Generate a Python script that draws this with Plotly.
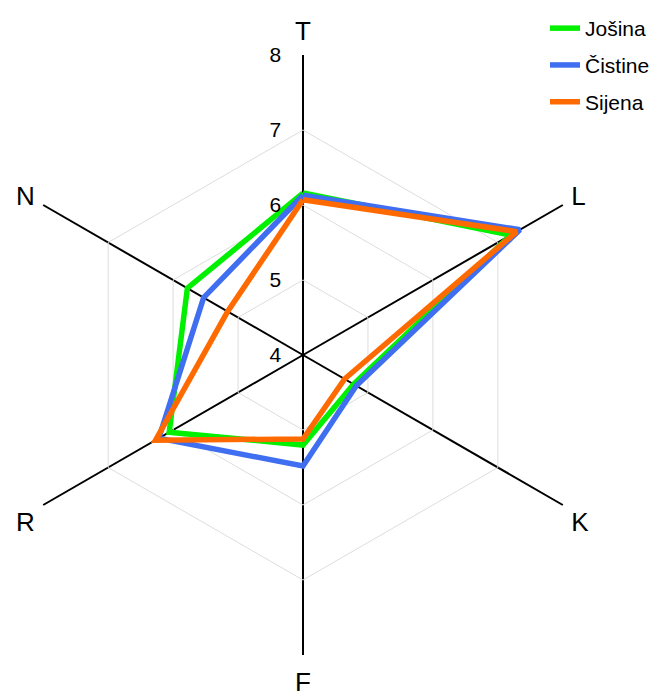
import plotly.graph_objects as go

categories = ["T", "L", "K", "F", "R", "N"]
josina = [6.16, 7.2, 4.78, 5.2, 6.06, 5.78]
cistine = [6.13, 7.34, 4.82, 5.48, 6.22, 5.53]
sijena = [6.07, 7.29, 4.64, 5.12, 6.27, 5.16]
series_names = ["Jošina", "Čistine", "Sijena"]
series_colors = ["#00f000", "#3f6ff0", "#ff6a00"]
radial_ticks = [4, 5, 6, 7, 8]

W, H = 659, 696

fig = go.Figure()
for name, vals, col in zip(series_names, [josina, cistine, sijena], series_colors):
    fig.add_trace(go.Scatterpolar(
        r=vals + vals[:1],
        theta=categories + categories[:1],
        mode="lines",
        name=name,
        legendgroup=name,
        line=dict(color=col, width=5.5),
    ))

fig.update_layout(
    width=W, height=H,
    margin=dict(l=0, r=0, t=0, b=0, autoexpand=False),
    paper_bgcolor="white",
    plot_bgcolor="white",
    font=dict(family="Liberation Sans, Arial, sans-serif", color="black"),
    polar=dict(
        domain=dict(x=[3 / W, 603 / W], y=[41 / H, 641 / H]),
        bgcolor="white",
        gridshape="linear",
        radialaxis=dict(
            range=[4, 8],
            tickvals=radial_ticks,
            angle=90,
            tickangle=90,
            side="counterclockwise",
            showline=False,
            ticks="outside",
            ticklen=14,
            tickcolor="rgba(0,0,0,0)",
            gridcolor="#dddddd",
            gridwidth=1,
            tickfont=dict(size=21, color="black"),
        ),
        angularaxis=dict(
            rotation=90,
            direction="clockwise",
            showline=False,
            gridcolor="black",
            gridwidth=1.5,
            ticks="outside",
            ticklen=4,
            tickcolor="rgba(0,0,0,0)",
            tickfont=dict(size=26, color="black"),
        ),
    ),
    legend=dict(
        x=545 / W, xanchor="left",
        y=1 - 8 / H, yanchor="top",
        font=dict(size=21, color="black"),
        traceorder="grouped",
        tracegroupgap=6.5,
        bgcolor="rgba(0,0,0,0)",
    ),
    showlegend=True,
)

fig.write_html(
    "out.html",
    config={"displayModeBar": False},
    post_script="document.body.style.margin='0';",
)
